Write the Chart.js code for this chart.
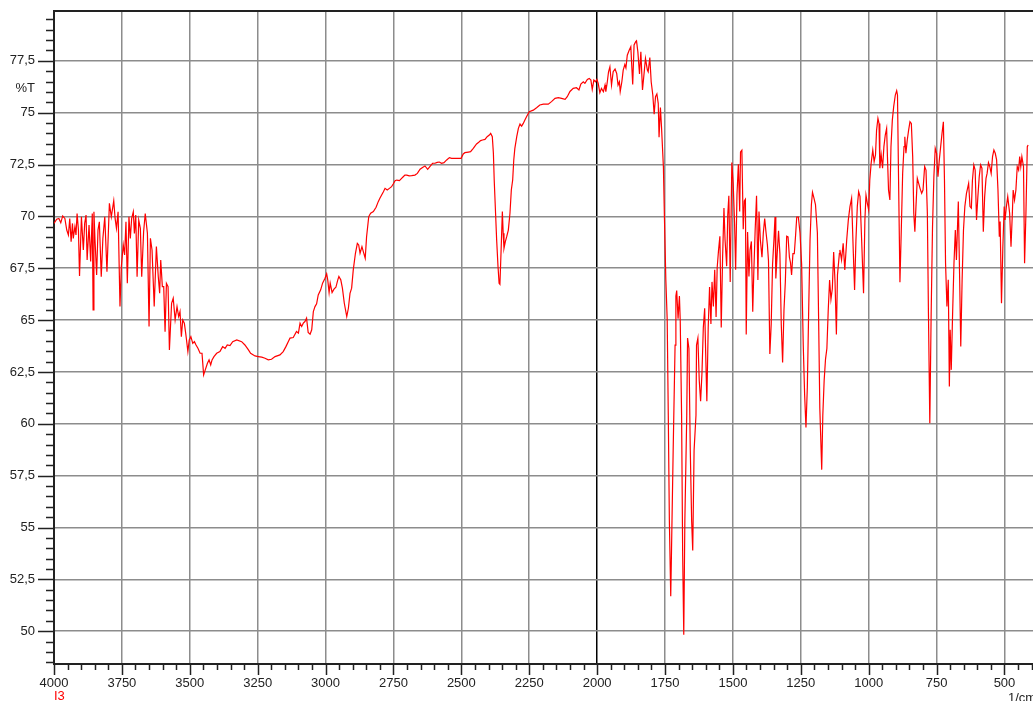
<!DOCTYPE html>
<html>
<head>
<meta charset="utf-8">
<title>IR spectrum</title>
<script src="https://cdn.jsdelivr.net/npm/chart.js@4"></script>
<style>
  html, body { margin: 0; padding: 0; background: #fff; }
  canvas { display: block; }
</style>
</head>
<body>
<canvas id="irChart" width="1033" height="701"></canvas>
<script>
// Wavenumber (1/cm) and %T
const wavenumbers = [
  4000, 3990, 3982, 3975, 3968, 3960, 3953, 3947, 3942, 3937, 3932, 3929, 3923, 3919, 3915, 3910,
  3906, 3899, 3892, 3887, 3882, 3878, 3871, 3865, 3859, 3856, 3853, 3849, 3843, 3838, 3833, 3826,
  3820, 3813, 3805, 3796, 3789, 3780, 3775, 3770, 3764, 3757, 3752, 3745, 3740, 3735, 3730, 3724,
  3719, 3714, 3708, 3704, 3699, 3694, 3688, 3682, 3677, 3670, 3664, 3656, 3650, 3645, 3639, 3631,
  3623, 3616, 3611, 3607, 3601, 3596, 3591, 3586, 3580, 3575, 3567, 3561, 3554, 3547, 3541, 3536,
  3531, 3526, 3520, 3515, 3512, 3507, 3502, 3496, 3489, 3483, 3477, 3470, 3462, 3455, 3449, 3443,
  3435, 3429, 3423, 3418, 3411, 3401, 3389, 3379, 3370, 3362, 3352, 3342, 3327, 3309, 3297, 3284,
  3276, 3260, 3248, 3235, 3223, 3211, 3199, 3186, 3168,
  3156, 3146, 3137, 3131, 3119, 3107, 3100, 3094, 3088, 3082, 3076, 3070, 3064, 3057, 3051, 3045,
  3039, 3033, 3027, 3018, 3011, 3002, 2996, 2992, 2987, 2983, 2976, 2969, 2962, 2955, 2951, 2944,
  2938, 2931, 2922, 2916, 2910, 2904, 2898, 2890, 2883, 2878, 2873, 2866, 2861, 2854, 2849, 2841,
  2834, 2824, 2814, 2806,
  2800, 2787, 2781, 2773, 2765, 2757, 2751, 2744, 2738, 2728, 2720, 2714, 2708, 2701, 2692, 2683,
  2671, 2662, 2652, 2643, 2634, 2624, 2616, 2606, 2597, 2589, 2581, 2573, 2564, 2554, 2544, 2536,
  2524, 2511, 2501, 2493, 2487, 2474, 2466, 2456, 2450, 2444, 2436, 2429, 2422, 2413, 2405, 2397,
  2392, 2386, 2382, 2379, 2374, 2370, 2365, 2361, 2358, 2354, 2349, 2346, 2343, 2338, 2333, 2327,
  2321, 2316, 2311, 2307, 2303, 2296, 2290, 2284, 2278, 2272, 2266, 2260, 2250, 2235, 2223, 2211,
  2198, 2180, 2168, 2155, 2143, 2131, 2118, 2110, 2100, 2088, 2076, 2067, 2060, 2051, 2045, 2036,
  2029, 2023, 2018, 2012, 2006, 2001, 1996, 1990, 1984, 1977, 1971, 1968, 1963, 1958, 1953, 1947,
  1941, 1934, 1928, 1923, 1918, 1915, 1909, 1904, 1898, 1894, 1889, 1882, 1876, 1869, 1864, 1858,
  1855, 1850, 1844, 1839, 1833, 1826, 1822, 1815, 1812, 1806, 1801, 1795, 1790, 1785, 1780, 1775,
  1772, 1767, 1763, 1756, 1752, 1747, 1742,
  1738, 1734, 1729, 1726, 1720, 1713, 1710, 1707, 1702, 1697, 1694, 1689, 1685, 1681, 1677, 1670,
  1667, 1662, 1657, 1652, 1648, 1643, 1636, 1634, 1629, 1624, 1619, 1614, 1609, 1604, 1601, 1596,
  1591, 1586, 1581, 1577, 1572, 1567, 1562, 1558, 1553, 1548, 1543, 1538, 1533, 1529, 1523, 1519,
  1515, 1510, 1504, 1499, 1494, 1490, 1485, 1480, 1475, 1472, 1467, 1462, 1458, 1454, 1451, 1446,
  1441, 1437, 1432, 1427, 1423, 1418, 1413, 1408, 1404, 1399, 1393, 1388, 1383, 1378, 1373, 1369,
  1364, 1359, 1354, 1349, 1345, 1342, 1337, 1332, 1327, 1322, 1317, 1312, 1307, 1302, 1297, 1292,
  1288, 1284, 1279, 1274, 1269, 1265, 1259, 1253, 1247, 1241, 1236, 1231, 1226, 1221, 1216, 1211,
  1207, 1202, 1196, 1189, 1184, 1180, 1173, 1169, 1164, 1159, 1154, 1149, 1144, 1139, 1134, 1129,
  1124, 1119, 1115, 1108,
  1106, 1100, 1094, 1088, 1081, 1075, 1069, 1063, 1057, 1052, 1047, 1042, 1037, 1032, 1026, 1019,
  1014, 1010, 1005, 1000, 996, 991, 985, 980, 975, 971, 966, 962, 959, 954, 949, 944,
  939, 934, 931, 927, 922, 918, 913, 908, 902, 897, 894, 890, 885, 880, 875, 870,
  867, 863, 858, 853, 848, 843, 838, 834, 830, 826, 821, 816, 811, 805, 800, 794,
  789, 784, 780, 775, 770, 765, 760, 755, 750, 745, 740, 735, 730, 725, 721, 717,
  712, 707, 703, 700, 696, 691, 686, 681, 677, 670, 665, 661, 656, 651, 646, 640,
  632, 627, 622, 618, 613, 608, 603, 598, 593, 588, 583, 578, 573, 568, 564, 559,
  554, 549, 544, 539, 534, 529, 524, 519, 516, 511, 506, 501, 498, 493, 488, 481,
  476, 471, 468, 463, 458, 453, 448, 444, 440, 436, 430, 426, 421, 416, 413
];

const transmittance = [
  69.66, 69.86, 69.90, 69.69, 70.02, 69.90, 69.34, 69.10, 69.90, 68.78, 69.66, 68.94, 69.50, 69.10, 70.14, 69.34,
  67.13, 69.98, 68.38, 69.66, 70.06, 67.90, 69.58, 67.82, 70.14, 65.49, 70.22, 68.86, 67.17, 69.34, 69.74, 67.09,
  68.94, 69.98, 67.33, 70.63, 69.98, 70.75, 69.90, 69.42, 70.22, 65.65, 67.58, 68.62, 68.14, 69.74, 66.77, 69.98,
  68.94, 69.90, 70.22, 69.18, 70.06, 67.09, 69.82, 69.42, 67.09, 69.26, 70.14, 69.18, 64.69, 68.94, 68.38, 65.65,
  68.54, 67.09, 66.29, 67.90, 66.61, 66.61, 64.44, 66.77, 66.61, 63.56, 65.81, 66.05, 65.01, 65.65, 65.17, 65.41,
  64.20, 65.01, 64.85, 64.36, 64.04, 63.48, 64.04, 64.20, 63.88, 63.96, 63.80, 63.64, 63.40, 63.40, 62.36, 62.60,
  62.92, 63.08, 62.84, 63.08, 63.24, 63.40, 63.48, 63.72, 63.64, 63.80, 63.77, 63.96, 64.04, 63.96, 63.80, 63.56,
  63.40, 63.27, 63.24, 63.21, 63.16, 63.08, 63.11, 63.24, 63.32,
  63.48, 63.72, 63.97, 64.13, 64.16, 64.45, 64.37, 64.85, 64.69, 64.85, 64.93, 65.09, 64.40, 64.32, 64.53, 65.41,
  65.65, 65.78, 66.21, 66.46, 66.78, 67.02, 67.23, 66.94, 66.33, 66.78, 66.33, 66.49, 66.58, 66.94, 67.10, 66.94,
  66.54, 65.81, 65.17, 65.57, 66.29, 66.54, 67.42, 68.22, 68.70, 68.62, 68.22, 68.54, 68.30, 67.98, 69.02, 69.99,
  70.15, 70.23, 70.44, 70.71,
  70.87, 71.19, 71.35, 71.27, 71.35, 71.43, 71.56, 71.72, 71.75, 71.72, 71.83, 71.91, 71.99, 71.99, 71.95, 71.96,
  71.99, 72.07, 72.27, 72.36, 72.43, 72.27, 72.40, 72.56, 72.56, 72.60, 72.62, 72.56, 72.59, 72.72, 72.83, 72.80,
  72.80, 72.80, 72.80, 73.01, 73.07, 73.10, 73.12, 73.28, 73.39, 73.49, 73.57, 73.65, 73.68, 73.71, 73.84, 73.92,
  74.00, 73.84, 73.04, 71.75, 70.15, 68.86, 67.58, 66.78, 66.73, 68.22, 70.23, 69.18, 68.46, 68.78, 69.02, 69.34,
  70.15, 71.27, 71.75, 72.72, 73.28, 73.84, 74.24, 74.45, 74.35, 74.48, 74.64, 74.80, 75.04, 75.12, 75.24, 75.37,
  75.41, 75.41, 75.53, 75.69, 75.72, 75.69, 75.64, 75.77, 76.02, 76.17, 76.20, 76.09, 76.38, 76.49, 76.41, 76.60,
  76.65, 76.57, 76.12, 76.57, 76.49, 76.60, 76.41, 75.96, 76.17, 76.01, 76.33, 76.01, 76.44, 76.97, 77.21, 76.33,
  76.97, 77.10, 76.89, 76.33, 76.49, 76.01, 76.49, 77.05, 77.32, 77.16, 77.77, 78.01, 78.18, 76.36, 78.26, 78.42,
  78.46, 77.93, 76.86, 77.93, 76.09, 77.05, 77.61, 77.05, 76.97, 77.66, 76.49, 75.85, 74.93, 75.77, 75.90, 75.45,
  73.81, 75.25, 74.32, 72.39, 69.83, 66.94, 65.01,
  60.41, 55.33, 51.69, 53.98, 58.72, 63.79, 66.16, 66.42, 65.06, 66.16, 64.98, 60.41, 53.64, 49.83, 55.33, 60.41,
  64.13, 63.63, 58.72, 55.33, 53.89, 58.72, 60.41, 63.79, 64.13, 62.10, 61.09, 62.44, 64.64, 65.57, 63.79, 61.09,
  64.64, 66.59, 64.81, 66.84, 65.66, 67.43, 65.15, 67.52, 68.36, 69.04, 64.64, 68.02, 70.40, 68.87, 67.60, 70.06,
  70.99, 66.84, 72.60, 71.58, 69.72, 67.43, 71.07, 72.51, 70.23, 73.10, 73.19, 69.38, 70.74, 70.82, 64.30, 69.24,
  67.10, 68.37, 68.79, 65.40, 67.35, 69.38, 70.99, 66.93, 70.23, 68.87, 68.03, 69.21, 69.89, 69.21, 68.62, 67.86,
  63.37, 64.81, 67.69, 68.87, 69.97, 67.01, 68.20, 69.30, 68.20, 64.81, 62.95, 65.49, 66.84, 69.04, 69.01, 68.03,
  67.77, 67.18, 68.20, 68.20, 69.13, 69.97, 69.97, 69.21, 67.69, 63.79, 61.42, 59.82, 61.76, 65.49, 68.87, 70.57,
  71.16, 70.90, 70.57, 69.21, 64.64, 60.75, 57.79, 60.41, 62.10, 63.12, 63.63, 65.49, 66.93, 66.00, 66.50, 68.28,
  66.84, 64.30, 67.18, 68.20,
  68.38, 67.90, 68.70, 67.42, 68.86, 69.83, 70.47, 70.87, 68.38, 66.45, 68.86, 70.47, 71.19, 70.95, 68.86, 66.29,
  69.83, 71.03, 70.63, 70.31, 71.75, 72.56, 73.20, 72.64, 72.96, 74.16, 74.72, 74.48, 72.32, 72.96, 72.32, 73.36,
  73.92, 74.24, 72.88, 71.27, 70.79, 73.36, 74.64, 75.29, 75.85, 76.06, 75.85, 71.75, 66.82, 69.34, 72.07, 73.36,
  73.84, 73.04, 73.68, 74.16, 74.56, 74.48, 72.88, 70.15, 69.26, 70.47, 71.83, 71.59, 71.35, 71.11, 71.27, 72.40,
  72.23, 70.15, 65.33, 60.03, 65.33, 69.50, 71.91, 73.28, 73.04, 71.91, 72.72, 73.36, 74.00, 74.56, 71.75, 67.74,
  65.65, 66.94, 61.80, 64.53, 62.60, 65.33, 67.74, 69.34, 67.90, 70.71, 66.94, 63.73, 66.94, 69.34, 70.47, 71.11,
  71.59, 70.47, 70.39, 71.75, 72.48, 72.23, 69.83, 70.95, 71.91, 72.48, 72.32, 69.26, 70.95, 71.83, 72.07, 72.59,
  72.40, 72.07, 72.88, 73.20, 73.04, 72.72, 71.27, 69.02, 69.75, 65.81, 68.54, 70.47, 69.83, 70.47, 70.95, 70.15,
  68.54, 70.15, 71.27, 70.79, 71.27, 72.40, 72.23, 72.88, 72.40, 72.88, 72.40, 67.74, 70.15, 73.36, 73.44
];

// Axis settings
const xMax = 4000;
const xMin = 395;
const yMin = 48.42;
const yMax = 79.9;
const xMajorStep = 250;
const xMinorStep = 50;
const yMajorStep = 2.5;
const yMinorStep = 0.5;

const points = wavenumbers.map((w, i) => ({ x: w, y: transmittance[i] }));

function isMultiple(v, step) {
  const r = Math.abs(v / step - Math.round(v / step));
  return r < 1e-6;
}

const gridGray = "#8c8c8c";
const axisDark = "#222";
const labelFont = { family: "'Liberation Sans', Arial, sans-serif", size: 13 };

// tick marks, top frame line and extra labels
const decorations = {
  id: "decorations",
  afterDraw(chart) {
    const c = chart.ctx;
    const area = chart.chartArea;
    const xs = chart.scales.x;
    const ys = chart.scales.y;
    c.save();
    c.strokeStyle = axisDark;
    c.lineWidth = 1.5;
    c.beginPath();
    ys.ticks.forEach(t => {
      const py = Math.round(ys.getPixelForValue(t.value)) + 0.5;
      const len = isMultiple(t.value, yMajorStep) ? 16 : 8;
      c.moveTo(area.left - len, py);
      c.lineTo(area.left, py);
    });
    xs.ticks.forEach(t => {
      const px = Math.round(xs.getPixelForValue(t.value)) + 0.5;
      const len = isMultiple(t.value, xMajorStep) ? 11 : 6;
      c.moveTo(px, area.bottom);
      c.lineTo(px, area.bottom + len);
    });
    c.stroke();

    // top frame
    c.lineWidth = 2;
    c.beginPath();
    c.moveTo(area.left, area.top);
    c.lineTo(area.right, area.top);
    c.stroke();

    c.font = "13px 'Liberation Sans', Arial, sans-serif";
    c.fillStyle = axisDark;
    c.textAlign = "right";
    c.textBaseline = "middle";
    c.fillText("%T", 35, 88);

    c.textAlign = "left";
    c.textBaseline = "top";
    c.fillText("1/cm", 1008, 692);

    c.fillStyle = "#ff0000";
    c.fillText("I3", 54, 690);
    c.restore();
  }
};

const ctx = document.getElementById("irChart").getContext("2d");
new Chart(ctx, {
  type: "line",
  data: {
    datasets: [{
      label: "I3",
      data: points,
      borderColor: "#ff0000",
      borderWidth: 1.2,
      pointRadius: 0,
      tension: 0,
      fill: false
    }]
  },
  options: {
    responsive: false,
    animation: false,
    events: [],
    layout: { padding: { top: 11, right: 0, bottom: 0, left: 0 } },
    plugins: {
      legend: { display: false },
      tooltip: { enabled: false }
    },
    scales: {
      x: {
        type: "linear",
        reverse: true,
        min: xMin,
        max: xMax,
        afterBuildTicks(scale) {
          const ticks = [];
          for (let v = xMax; v >= 400; v -= xMinorStep) ticks.push({ value: v });
          scale.ticks = ticks;
        },
        afterFit(scale) {
          scale.height = 37;
          scale.paddingLeft = 0;
          scale.paddingRight = 0;
          scale.paddingTop = 0;
          scale.paddingBottom = 0;
        },
        ticks: {
          autoSkip: false,
          maxRotation: 0,
          padding: 12,
          color: axisDark,
          font: labelFont,
          callback: v => isMultiple(v, xMajorStep) ? String(v) : ""
        },
        grid: {
          drawTicks: false,
          lineWidth: 1.5,
          color: c => {
            const v = c.tick ? c.tick.value : 0;
            if (v === 2000) return "#000";
            return isMultiple(v, xMajorStep) ? gridGray : "rgba(0,0,0,0)";
          }
        },
        border: { color: axisDark, width: 2 }
      },
      y: {
        type: "linear",
        min: yMin,
        max: yMax,
        afterBuildTicks(scale) {
          const ticks = [];
          for (let v = 48.5; v <= 79.5 + 1e-6; v += yMinorStep) ticks.push({ value: Math.round(v * 10) / 10 });
          scale.ticks = ticks;
        },
        afterFit(scale) {
          scale.width = 54;
          scale.paddingLeft = 0;
          scale.paddingRight = 0;
          scale.paddingTop = 0;
          scale.paddingBottom = 0;
        },
        ticks: {
          autoSkip: false,
          padding: 19,
          color: axisDark,
          font: labelFont,
          callback: v => isMultiple(v, yMajorStep) ? String(v).replace(".", ",") : ""
        },
        grid: {
          drawTicks: false,
          lineWidth: 1.5,
          color: c => {
            const v = c.tick ? c.tick.value : 0;
            return isMultiple(v, yMajorStep) ? gridGray : "rgba(0,0,0,0)";
          }
        },
        border: { color: axisDark, width: 2 }
      }
    }
  },
  plugins: [decorations]
});
</script>
</body>
</html>
